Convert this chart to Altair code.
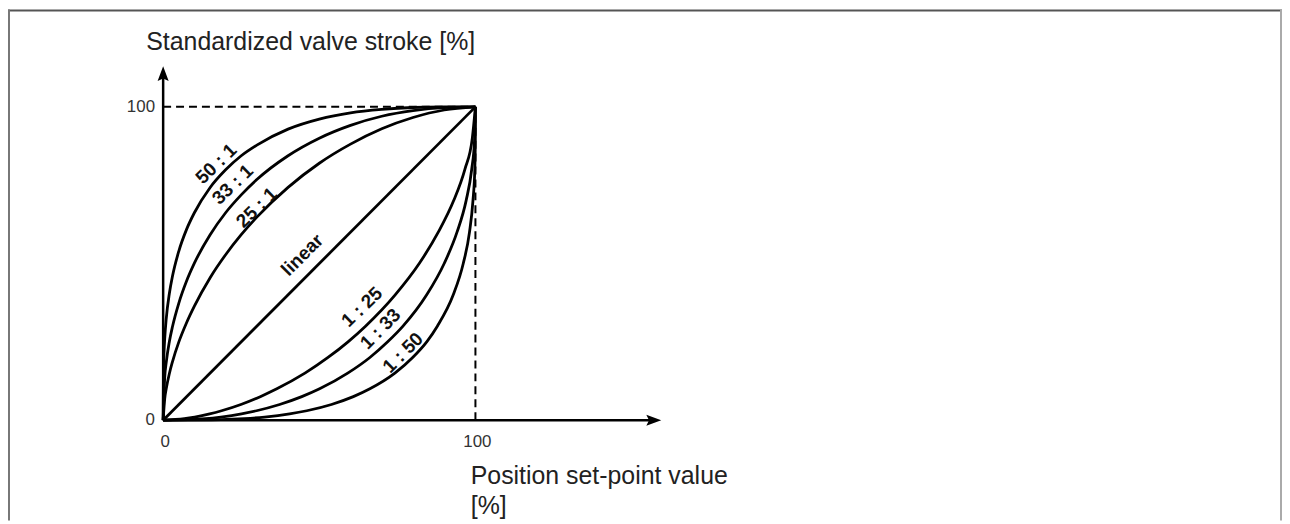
import altair as alt
import pandas as pd

# ---- curve data (percent) ----
# upper curves (x = position set-point, y = valve stroke)
x_50_1 = [0, 0.1, 0.3, 0.5, 1, 2, 3, 5, 7.5, 10, 15, 20, 25, 30, 40, 50, 60, 70, 80, 90, 100]
y_50_1 = [0, 15.5, 22.1, 26.0, 32.5, 40.5, 46.0, 53.9, 60.9, 66.2, 74.2, 79.9, 84.4, 87.8, 92.9, 96.1, 98.1, 99.2, 99.8, 99.97, 100]

x_33_1 = [0, 0.5, 1, 2, 3, 5, 7.5, 10, 15, 20, 25, 30, 40, 50, 60, 70, 80, 90, 100]
y_33_1 = [0, 13.6, 18.5, 25.1, 29.9, 37.3, 44.4, 50.1, 59.1, 66.2, 71.9, 76.8, 84.4, 90.0, 94.1, 97.0, 98.8, 99.75, 100]

x_25_1 = [0, 0.5, 1, 2, 3, 5, 7.5, 10, 15, 20, 25, 30, 40, 50, 60, 70, 80, 90, 100]
y_25_1 = [0, 6.8, 10.1, 14.9, 18.7, 24.9, 31.1, 36.4, 45.4, 52.8, 59.2, 64.8, 74.3, 82.0, 88.1, 93.0, 96.6, 99.0, 100]

x_linear = [0, 100]
y_linear = [0, 100]

# lower curves
x_1_25 = [0, 6.8, 10.1, 14.9, 18.7, 24.9, 31.1, 36.4, 45.4, 52.8, 59.2, 64.8, 74.3, 82.0, 88.1, 93.0, 96.6, 99.0, 100]
y_1_25 = [0, 0.5, 1, 2, 3, 5, 7.5, 10, 15, 20, 25, 30, 40, 50, 60, 70, 80, 90, 100]

x_1_33 = [0, 13.6, 18.5, 25.1, 29.9, 37.3, 44.4, 50.1, 59.1, 66.2, 71.9, 76.8, 84.4, 90.0, 94.1, 97.0, 98.8, 99.75, 100]
y_1_33 = [0, 0.5, 1, 2, 3, 5, 7.5, 10, 15, 20, 25, 30, 40, 50, 60, 70, 80, 90, 100]

x_1_50 = [0, 15.5, 22.1, 26.0, 32.5, 40.5, 46.0, 53.9, 60.9, 66.2, 74.2, 79.9, 84.4, 87.8, 92.9, 96.1, 98.1, 99.2, 99.8, 99.97, 100]
y_1_50 = [0, 0.1, 0.3, 0.5, 1, 2, 3, 5, 7.5, 10, 15, 20, 25, 30, 40, 50, 60, 70, 80, 90, 100]

curve_names = ["50 : 1", "33 : 1", "25 : 1", "linear", "1 : 25", "1 : 33", "1 : 50"]
curve_x = [x_50_1, x_33_1, x_25_1, x_linear, x_1_25, x_1_33, x_1_50]
curve_y = [y_50_1, y_33_1, y_25_1, y_linear, y_1_25, y_1_33, y_1_50]

# curve labels
label_text = ["50 : 1", "33 : 1", "25 : 1", "linear", "1 : 25", "1 : 33", "1 : 50"]
label_x = [17.0, 22.3, 30.0, 44.6, 63.7, 69.6, 76.8]
label_y = [81.8, 75.2, 67.8, 52.7, 36.1, 29.1, 21.5]
label_angle = [316, 316, 316, 315, 316, 315, 315]

# tick labels
x_tick_values = [0, 100]
x_tick_text = ["0", "100"]
y_tick_values = [0, 100]
y_tick_text = ["0", "100"]

y_title = "Standardized valve stroke [%]"
x_title_lines = ["Position set-point value", "[%]"]

# ---- layout ----
W, H = 1281, 514
KX, KY = 3.14, 3.15
XMIN = -156 / KX
XMAX = XMIN + W / KX
YMAX = 413 / KY
YMIN = YMAX - H / KY

xs = alt.Scale(domain=[XMIN, XMAX], nice=False, zero=False)
ys = alt.Scale(domain=[YMIN, YMAX], nice=False, zero=False)
FONT = "Liberation Sans"

rows = []
for name, xv, yv in zip(curve_names, curve_x, curve_y):
    for i, (a, b) in enumerate(zip(xv, yv)):
        rows.append({"curve": name, "x": a, "y": b, "order": i})
curves_df = pd.DataFrame(rows)

curves = alt.Chart(curves_df).mark_line(
    color="black", strokeWidth=2.8, interpolate="monotone"
).encode(
    x=alt.X("x:Q", scale=xs, axis=None),
    y=alt.Y("y:Q", scale=ys, axis=None),
    detail="curve:N",
    order="order:Q",
)

labels_df = pd.DataFrame({"t": label_text, "x": label_x, "y": label_y, "a": label_angle})
labels = alt.Chart(labels_df).mark_text(
    font=FONT, fontSize=19, fontWeight="bold", color="#111", align="center", baseline="middle"
).encode(
    x=alt.X("x:Q", scale=xs, axis=None), y=alt.Y("y:Q", scale=ys, axis=None), text="t:N",
    angle=alt.Angle("a:Q", scale=None),
)

# dashed guide lines at 100 / 100
guides_df = pd.DataFrame({"x": [0, 100], "y": [100, 0], "x2": [100, 100], "y2": [100, 100]})
guides = alt.Chart(guides_df).mark_rule(
    color="black", strokeWidth=2, strokeDash=[8, 5]
).encode(
    x=alt.X("x:Q", scale=xs, axis=None), y=alt.Y("y:Q", scale=ys, axis=None), x2="x2:Q", y2="y2:Q"
)

# axis lines with arrows
axis_end_x = 157.0
axis_end_y = 109.5
arrow_tip_x = 159.5
arrow_tip_y = 113.0
axes_df = pd.DataFrame({"x": [0, 0], "y": [0, 0], "x2": [axis_end_x, 0], "y2": [0, axis_end_y]})
axes_lines = alt.Chart(axes_df).mark_rule(color="black", strokeWidth=2.5).encode(
    x=alt.X("x:Q", scale=xs, axis=None), y=alt.Y("y:Q", scale=ys, axis=None), x2="x2:Q", y2="y2:Q"
)
arrow_up = alt.Chart(pd.DataFrame({"x": [0], "y": [arrow_tip_y]})).mark_point(
    shape="M0,0L-0.37,1L0,0.82L0.37,1Z", size=900, filled=True, color="black", opacity=1
).encode(x=alt.X("x:Q", scale=xs, axis=None), y=alt.Y("y:Q", scale=ys, axis=None))
arrow_right = alt.Chart(pd.DataFrame({"x": [arrow_tip_x], "y": [0]})).mark_point(
    shape="M0,0L-1,-0.37L-0.82,0L-1,0.37Z", size=900, filled=True, color="black", opacity=1
).encode(x=alt.X("x:Q", scale=xs, axis=None), y=alt.Y("y:Q", scale=ys, axis=None))

# tick labels
xt_df = pd.DataFrame({"x": x_tick_values, "t": x_tick_text, "y": [-7.0] * len(x_tick_values)})
xticks = alt.Chart(xt_df).mark_text(
    font=FONT, fontSize=17, color="#333", align="center", baseline="middle", dx=2
).encode(x=alt.X("x:Q", scale=xs, axis=None), y=alt.Y("y:Q", scale=ys, axis=None), text="t:N")
yt_df = pd.DataFrame({"y": y_tick_values, "t": y_tick_text, "x": [-2.6] * len(y_tick_values)})
yticks = alt.Chart(yt_df).mark_text(
    font=FONT, fontSize=17, color="#333", align="right", baseline="middle"
).encode(x=alt.X("x:Q", scale=xs, axis=None), y=alt.Y("y:Q", scale=ys, axis=None), text="t:N")

# axis titles
yt_title = alt.Chart(pd.DataFrame({"x": [-5.4], "y": [118.1], "t": [y_title]})).mark_text(
    font=FONT, fontSize=25, color="#222", align="left", baseline="alphabetic"
).encode(x=alt.X("x:Q", scale=xs, axis=None), y=alt.Y("y:Q", scale=ys, axis=None), text="t:N")
xt_title = alt.Chart(pd.DataFrame({"x": [98.5, 98.5], "y": [-20.3, -29.8], "t": x_title_lines})).mark_text(
    font=FONT, fontSize=25, color="#222", align="left", baseline="alphabetic"
).encode(x=alt.X("x:Q", scale=xs, axis=None), y=alt.Y("y:Q", scale=ys, axis=None), text="t:N")

# outer frame (in data units that span the drawing edges)
fx0 = XMIN + 1 / KX
fx1 = XMAX - 1 / KX
fy1 = YMAX - 1 / KY
frame_df = pd.DataFrame({
    "x": [XMIN, fx0, fx1], "x2": [XMAX, fx0, fx1],
    "y": [fy1, YMIN, YMIN], "y2": [fy1, YMAX, YMAX],
    "c": ["#555", "#777", "#aaa"],
})
frame = alt.Chart(frame_df).mark_rule(strokeWidth=2).encode(
    x=alt.X("x:Q", scale=xs, axis=None), y=alt.Y("y:Q", scale=ys, axis=None),
    x2="x2:Q", y2="y2:Q", color=alt.Color("c:N", scale=None),
)

chart = alt.layer(
    frame, guides, curves, axes_lines, arrow_up, arrow_right,
    labels, xticks, yticks, yt_title, xt_title,
).properties(
    width=W, height=H, autosize=alt.AutoSizeParams(type="none"), padding=0, background="white"
).configure_view(stroke=None)

chart.save("out.html", embed_options={"renderer": "svg", "actions": False})
